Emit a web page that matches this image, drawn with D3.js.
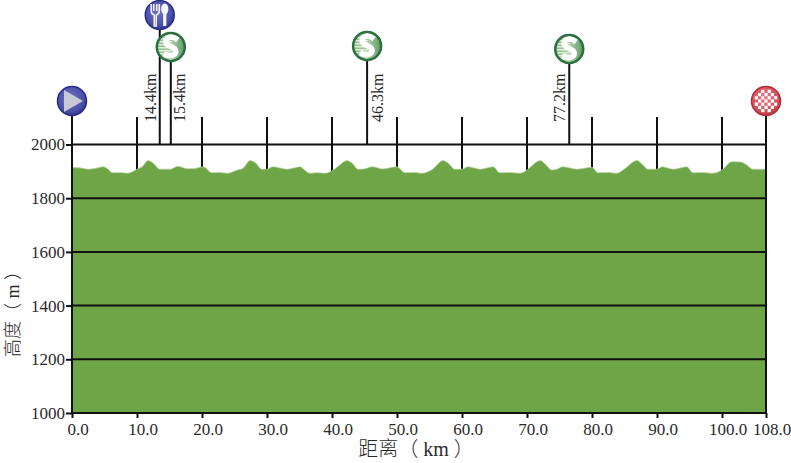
<!DOCTYPE html>
<html>
<head>
<meta charset="utf-8">
<script src="https://cdn.jsdelivr.net/npm/d3@7"></script>
<style>
  html, body { margin: 0; padding: 0; background: #fff; }
  svg { display: block; }
  text { font-family: "Liberation Serif", "Noto Sans CJK SC", serif; fill: #2a2a2a; }
</style>
</head>
<body>
<svg id="chart" width="791" height="463"></svg>
<script>
// elevation profile
const profileKm = [0, 1.2, 2.5, 3.5, 4.8, 5.4, 6.2, 7.7, 8.6, 10, 10.8, 11.7, 12.5, 13.5, 15.1, 16.3, 17.7, 18.9,
  20.2, 21.5, 22.8, 24, 25.4, 26.3, 27.4, 28.2, 29.2, 30, 30.9, 33.1, 35.1, 35.5, 36.6, 37.7, 38.9, 40.2, 41.2,
  42.3, 43.1, 44, 45.1, 46.2, 47.8, 50, 51.2, 52.8, 53.8, 55.5, 57.1, 57.8, 58.9, 60, 60.9, 62.8, 64.8, 65.8,
  67.4, 68.9, 70, 70.9, 72, 72.8, 73.8, 74.6, 75.5, 77.7, 80, 80.9, 82.5, 83.8, 85.1, 86.9, 87.7, 88.6, 90,
  90.8, 92.5, 94.6, 95.5, 97.1, 98.5, 100, 101.8, 103.3, 104.5, 105.6, 107.6, 108];
const profileElev = [1914, 1913, 1908, 1911, 1917, 1911, 1895, 1895, 1893, 1908, 1917, 1940, 1930, 1908, 1908, 1919, 1910, 1911,
  1917, 1895, 1896, 1893, 1905, 1911, 1940, 1932, 1908, 1908, 1917, 1908, 1917, 1911, 1893, 1895, 1893, 1905, 1924,
  1940, 1930, 1908, 1910, 1917, 1909, 1917, 1895, 1896, 1893, 1908, 1940, 1932, 1908, 1908, 1917, 1908, 1917, 1895,
  1896, 1893, 1905, 1924, 1940, 1927, 1905, 1908, 1917, 1908, 1915, 1895, 1896, 1893, 1911, 1940, 1927, 1908, 1908,
  1917, 1908, 1917, 1895, 1896, 1893, 1905, 1936, 1935, 1924, 1908, 1908, 1908];

const xTicks = [0, 10, 20, 30, 40, 50, 60, 70, 80, 90, 100, 108];
const yTicks = [1000, 1200, 1400, 1600, 1800, 2000];

// stem positions as drawn, and the labels printed beside them
const pointKm = [0, 13.5, 15.2, 45.4, 76.5, 108];
const pointKind = ["start", "food", "sprint", "sprint", "sprint", "finish"];
const pointLabels = ["", "14.4km", "15.4km", "46.3km", "77.2km", ""];

const svg = d3.select("#chart");

// the source axis squeezes the last 8 km
const x = d3.scaleLinear().domain([0, 100, 108]).range([72, 722, 766]);
const y = d3.scaleLinear().domain([1000, 2000]).range([413, 144.5]);

const ink = "#111";

// layout of the icons, same order as pointKm
const headY = [101, 15, 47, 46, 49, 101];
const labelSide = [0, -9, 9, 11, -9, 0];

const defs = svg.append("defs");

function ballGradient(id, light, mid, dark) {
  const g = defs.append("radialGradient").attr("id", id).attr("cx", "45%").attr("cy", "40%").attr("r", "65%");
  g.append("stop").attr("offset", "0%").attr("stop-color", light);
  g.append("stop").attr("offset", "70%").attr("stop-color", mid);
  g.append("stop").attr("offset", "100%").attr("stop-color", dark);
}
ballGradient("ballBlue", "#6f74c4", "#4a4fa8", "#2a2d86");
ballGradient("ballRed", "#e8757e", "#d6525d", "#b0303a");

const sprintFill = defs.append("linearGradient").attr("id", "sprintFill");
sprintFill.append("stop").attr("offset", "0%").attr("stop-color", "#8fbb8c");
sprintFill.append("stop").attr("offset", "55%").attr("stop-color", "#a9cba4");
sprintFill.append("stop").attr("offset", "100%").attr("stop-color", "#5f9a68");

defs.append("clipPath").attr("id", "sprintClip").append("circle").attr("r", 12.5);
defs.append("clipPath").attr("id", "finishClip").append("circle").attr("r", 12.5);

// tick stems up from the 2000 line
svg.append("g").selectAll("line")
  .data(xTicks.slice(1, -1))
  .join("line")
  .attr("x1", d => x(d)).attr("x2", d => x(d))
  .attr("y1", 117).attr("y2", y(1850))
  .attr("stroke", ink).attr("stroke-width", 2);

// profile
const area = d3.area()
  .x((d, i) => x(profileKm[i]))
  .y0(y(1000))
  .y1(d => y(d))
  .curve(d3.curveMonotoneX);

svg.append("path")
  .datum(profileElev)
  .attr("fill", "#6da547")
  .attr("stroke", "#b5d39f")
  .attr("stroke-width", 0.7)
  .attr("d", area);

// horizontal lines
svg.append("g").selectAll("line")
  .data(yTicks)
  .join("line")
  .attr("x1", x(0)).attr("x2", x(108))
  .attr("y1", d => y(d)).attr("y2", d => y(d))
  .attr("stroke", ink).attr("stroke-width", 2);

// axes
const yAxis = svg.append("g")
  .attr("transform", `translate(${x(0)},0)`)
  .call(d3.axisLeft(y).tickValues(yTicks).tickSize(6).tickPadding(1).tickFormat(d3.format("d")));
const xAxis = svg.append("g")
  .attr("transform", `translate(0,${y(1000)})`)
  .call(d3.axisBottom(x).tickValues(xTicks).tickSize(5).tickPadding(5).tickFormat(d3.format(".1f")));

yAxis.select(".domain").remove();
xAxis.select(".domain").remove();
[xAxis, yAxis].forEach(a => {
  a.selectAll("line").attr("stroke", ink).attr("stroke-width", 2);
  a.selectAll("text").attr("font-size", 17).attr("fill", "#2a2a2a");
});
xAxis.selectAll("text").attr("dx", 5.5);

// point stems
const points = svg.append("g").selectAll("g")
  .data(pointKm)
  .join("g")
  .attr("transform", d => `translate(${x(d)},0)`);

points.append("line")
  .attr("y1", (d, i) => headY[i])
  .attr("y2", (d, i) => (pointKind[i] === "start" || pointKind[i] === "finish") ? y(1000) : y(2000))
  .attr("stroke", ink).attr("stroke-width", 2);

points.append("text")
  .attr("transform", (d, i) => `translate(${labelSide[i] + 5},122) rotate(-90)`)
  .attr("font-size", 16)
  .text((d, i) => pointLabels[i]);

// icons
const heads = points.append("g")
  .attr("transform", (d, i) => `translate(0,${headY[i]})`);

heads.each(function(d, i) {
  const h = d3.select(this);
  const kind = pointKind[i];
  if (kind === "start" || kind === "food") {
    h.append("circle").attr("r", 14.5).attr("fill", "url(#ballBlue)").attr("stroke", "#2a2d86").attr("stroke-width", 1.5);
  }
  if (kind === "start") {
    h.append("path").attr("d", "M-8,-11L11,0L-8,11Z").attr("fill", "#c9c9d6");
  }
  if (kind === "food") {
    // fork
    h.append("path")
      .attr("d", "M-8.5,-11V-4Q-8.5,-1 -5.5,0V11H-3.5V0Q-0.5,-1 -0.5,-4V-11M-6,-11V-4M-3,-11V-4")
      .attr("fill", "none").attr("stroke", "#f0f0f6").attr("stroke-width", 1.6);
    // knife
    h.append("ellipse").attr("cx", 5).attr("cy", -6).attr("rx", 3.6).attr("ry", 5.5).attr("fill", "#f6f6fa");
    h.append("rect").attr("x", 3.4).attr("y", -2).attr("width", 3.2).attr("height", 13).attr("fill", "#f6f6fa");
  }
  if (kind === "sprint") {
    h.append("circle").attr("r", 14).attr("fill", "url(#sprintFill)").attr("stroke", "#2a7040").attr("stroke-width", 2.5);
    // the stripes only run over the left half of the ball
    const stripes = h.append("g").attr("clip-path", "url(#sprintClip)");
    d3.range(-12, 13, 3).forEach(s => {
      stripes.append("rect").attr("x", -13).attr("y", s).attr("width", 14).attr("height", 1.5)
        .attr("fill", "#eef5ea").attr("opacity", 0.85);
    });
    h.append("path")
      .attr("d", "M7,-7Q2,-11 -2,-9.5Q-7,-7 -4,-3Q-2,-1 1,0Q7,3 4,7Q0,10.5 -7,6.5")
      .attr("fill", "none").attr("stroke", "#fff").attr("stroke-width", 5.5);
  }
  if (kind === "finish") {
    h.append("circle").attr("r", 14.5).attr("fill", "url(#ballRed)").attr("stroke", "#b0303a").attr("stroke-width", 1.5);
    const board = h.append("g").attr("clip-path", "url(#finishClip)");
    d3.range(-3, 4).forEach(row => d3.range(-3, 4).forEach(col => {
      if ((row + col + 12) % 2 === 0 && Math.abs(row) + Math.abs(col) < 5) {
        board.append("rect").attr("x", col * 3.2 - 1.6).attr("y", row * 3.2 - 1.6)
          .attr("width", 3.2).attr("height", 3.2).attr("fill", "#fff");
      }
    }));
  }
});

// axis titles
svg.append("text")
  .attr("x", 416).attr("y", 456)
  .attr("text-anchor", "middle").attr("font-size", 20)
  .attr("font-weight", 300)
  .text("距离（ km ）");

svg.append("text")
  .attr("transform", "translate(19,309.5) rotate(-90)")
  .attr("text-anchor", "middle").attr("font-size", 18)
  .attr("font-weight", 300)
  .text("高度（ m ）");
</script>
</body>
</html>
